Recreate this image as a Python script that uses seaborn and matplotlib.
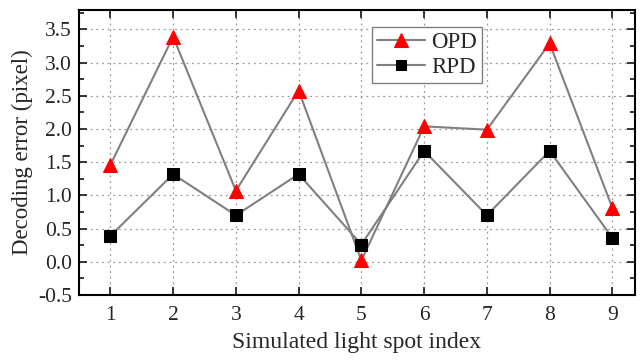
import numpy as np
import pandas as pd
import matplotlib
matplotlib.use('Agg')
import matplotlib.pyplot as plt
import seaborn as sns
from matplotlib.ticker import MultipleLocator

# data
spot_index = [1, 2, 3, 4, 5, 6, 7, 8, 9]
opd_error = [1.46, 3.39, 1.07, 2.58, 0.02, 2.04, 1.99, 3.29, 0.81]
rpd_error = [0.39, 1.32, 0.70, 1.32, 0.26, 1.67, 0.70, 1.67, 0.36]

sns.set_style('ticks')
plt.rcParams['font.family'] = ['Liberation Serif', 'DejaVu Serif']

df = pd.DataFrame({'idx': spot_index, 'OPD': opd_error, 'RPD': rpd_error})

fig = plt.figure(figsize=(6.44, 3.6), dpi=100)
ax = fig.add_axes([0.1227, 0.1806, 0.986 - 0.1227, 0.9736 - 0.1806])

sns.lineplot(data=df, x='idx', y='OPD', ax=ax, color='#808080', linewidth=1.5,
             marker='^', markersize=10.5, markerfacecolor='red',
             markeredgecolor='red', label='OPD', zorder=3)
sns.lineplot(data=df, x='idx', y='RPD', ax=ax, color='#808080', linewidth=1.5,
             marker='s', markersize=8.5, markerfacecolor='black',
             markeredgecolor='black', label='RPD', zorder=3)

ax.set_xlim(0.5, 9.36)
ax.set_ylim(-0.5, 3.8)
ax.set_xticks(spot_index)
ax.yaxis.set_minor_locator(MultipleLocator(0.25))
yt = np.arange(-0.5, 3.51, 0.5)
ax.set_yticks(yt)
ax.set_yticklabels([f'{v:.1f}' for v in yt])

ax.grid(True, which='major', linestyle=(0, (1.5, 3)), color='#999999', linewidth=0.9)
ax.tick_params(which='both', direction='in', top=True, right=True,
               labelsize=15.5, width=1.3)
ax.tick_params(which='major', length=6, pad=5)
ax.tick_params(axis='x', which='major', pad=8)
ax.tick_params(which='minor', length=3.5)
for s in ax.spines.values():
    s.set_linewidth(1.5)
    s.set_color('black')

ax.set_xlabel('Simulated light spot index', fontsize=17, labelpad=5)
ax.set_ylabel('Decoding error (pixel)', fontsize=16.5, labelpad=4)

leg = ax.legend(loc='upper left', bbox_to_anchor=(0.527, 0.939), fontsize=16.5,
                fancybox=False, edgecolor='#808080', framealpha=1,
                handlelength=2.1, borderpad=0.2, labelspacing=0.2,
                handletextpad=0.3, borderaxespad=0, markerscale=0.9)
leg.get_frame().set_linewidth(1.0)

fig.savefig('out.png', dpi=100)
